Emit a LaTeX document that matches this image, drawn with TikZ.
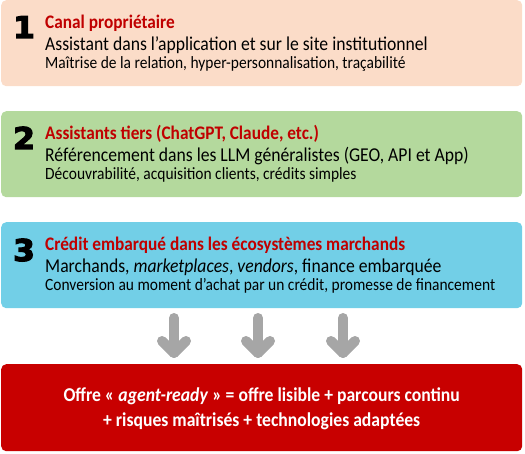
\documentclass[tikz,border=0pt]{standalone}
\usepackage{fontspec}
\setmainfont{Carlito}[FakeStretch=0.9]
\newfontfamily\numfont{DejaVu Sans}[FakeStretch=1.05, BoldFeatures={FakeBold=4}]
\definecolor{peach}{HTML}{FBDCC8}
\definecolor{lgreen}{HTML}{B4D99D}
\definecolor{cyanb}{HTML}{72CFE7}
\definecolor{redbox}{HTML}{C80000}
\definecolor{redtitle}{HTML}{C00000}
\definecolor{arrowgray}{HTML}{A6A6A6}
\tikzset{
  panel/.style={rounded corners=5pt, inner sep=0pt, minimum width=521pt, minimum height=86pt, anchor=north west, draw=none},
  num/.style={anchor=base, inner sep=0pt, font=\numfont\bfseries\fontsize{30}{30}\selectfont, text=black},
  ttl/.style={anchor=base west, inner sep=0pt, text height=14pt, text depth=4pt, font=\bfseries\fontsize{19.2}{20}\selectfont, text=redtitle},
  sub/.style={anchor=base west, inner sep=0pt, text height=14.5pt, text depth=4pt, font=\fontsize{19.6}{20}\selectfont, text=black},
  note/.style={anchor=base west, inner sep=0pt, text height=12.5pt, text depth=3.5pt, font=\fontsize{17.2}{18}\selectfont, text=black},
  shaft/.style={draw=arrowgray, line width=10pt, line cap=round},
  chev/.style={draw=arrowgray, line width=10pt, line cap=round, line join=round},
}
\begin{document}
\begin{tikzpicture}[x=1pt,y=-1pt]
\useasboundingbox (0,0) rectangle (525,454);
% panels
\node[panel, fill=peach] (b1) at (1,0) {};
\node[panel, fill=lgreen] (b2) at (1,111) {};
\node[panel, fill=cyanb] (b3) at (1,222) {};
\node[panel, fill=redbox, minimum height=87pt] (b4) at (1,364) {};
% panel 1
\node[num] (n1) at (24,38) {1};
\node[ttl] (t1) at (45,29) {Canal propriétaire};
\node[sub] (s1) at (45,51) {Assistant dans l’application et sur le site institutionnel};
\node[note] (m1) at (45,69) {Maîtrise de la relation, hyper-personnalisation, traçabilité};
% panel 2
\node[num] (n2) at (24,149) {2};
\node[ttl] (t2) at (45,140) {Assistants tiers (ChatGPT, Claude, etc.)};
\node[sub] (s2) at (45,162) {Référencement dans les LLM généralistes (GEO, API et App)};
\node[note] (m2) at (45,180) {Découvrabilité, acquisition clients, crédits simples};
% panel 3
\node[num] (n3) at (24,261) {3};
\node[ttl] (t3) at (45,251) {Crédit embarqué dans les écosystèmes marchands};
\node[sub] (s3) at (45,273) {Marchands, \textit{marketplaces}, \textit{vendors}, finance embarquée};
\node[note] (m3) at (45,291) {Conversion au moment d’achat par un crédit, promesse de financement};
% bottom
\node[align=center, inner sep=0pt, text=white, font=\bfseries\fontsize{19.6}{25}\selectfont] (f) at ([yshift=-1pt]b4.center) {Offre « \textit{agent-ready} » = offre lisible + parcours continu\\+ risques maîtrisés + technologies adaptées};
% arrows
\foreach \i/\xx in {1/174,2/258,3/343}{
  \coordinate (as\i) at (\xx,318);
  \coordinate (ae\i) at (\xx,353);
  \draw[shaft] (as\i) -- (ae\i);
  \draw[chev] ([xshift=-12pt,yshift=12pt]ae\i) -- (ae\i) -- ([xshift=12pt,yshift=12pt]ae\i);
}
\end{tikzpicture}
\end{document}
